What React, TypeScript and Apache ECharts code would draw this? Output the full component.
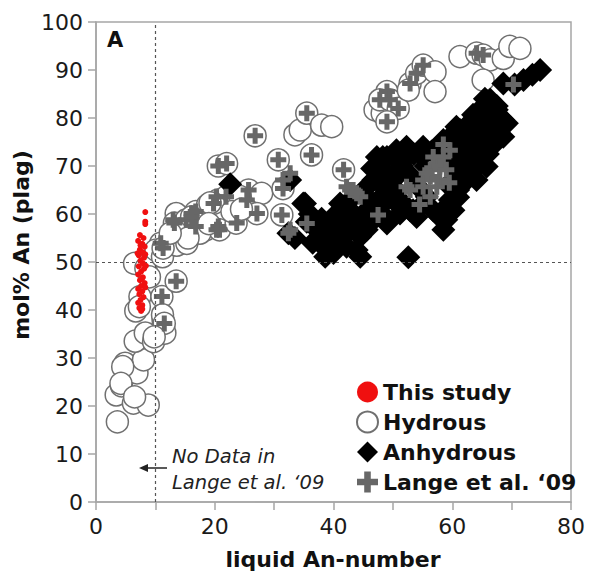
import React, { useEffect, useRef } from "react";
import * as echarts from "echarts";

const xTickLabels = [0, 20, 40, 60, 80];
const yTickLabels = [0, 10, 20, 30, 40, 50, 60, 70, 80, 90, 100];
const legendNames = ["This study", "Hydrous", "Anhydrous", "Lange et al. \u201809"];

const thisStudy: number[][] = [
  [8.3, 60.4], [8.3, 58.4], [8.3, 57.9], [7.4, 55.6], [8.0, 55.0], [7.1, 54.4], [7.8, 53.8],
  [8.2, 53.2], [7.4, 52.6], [7.9, 52.0], [7.2, 51.4], [8.1, 50.9], [7.5, 50.3], [7.9, 49.7],
  [7.2, 49.1], [8.1, 48.6], [7.6, 48.0], [7.1, 47.4], [7.9, 46.8], [7.4, 46.2], [8.2, 45.6],
  [7.6, 45.0], [7.1, 44.4], [7.8, 43.9], [7.3, 43.3], [8.0, 42.7], [7.5, 42.1], [7.1, 41.5],
  [7.8, 41.0], [7.3, 40.4], [7.6, 39.8], [8.3, 44.7], [8.4, 49.2], [7.0, 51.8], [8.3, 51.6],
  [7.7, 46.5], [7.5, 53.5], [7.8, 40.2]
];

const hydrous: number[][] = [
  [3.6, 16.7], [3.4, 22.3], [4.3, 24.2], [6.3, 20.6], [8.8, 20.2], [4.9, 28.9], [5.4, 27.5],
  [6.9, 26.9], [8.0, 29.6], [6.6, 33.5], [8.3, 35.2], [9.7, 33.4], [11.6, 35.2], [11.3, 37.9],
  [6.7, 39.8], [7.4, 42.8], [11.1, 42.8], [13.5, 46.0], [6.5, 49.7], [8.4, 48.7], [9.0, 46.9],
  [7.3, 40.7], [11.2, 39.0], [11.5, 37.2], [9.8, 34.4], [4.5, 28.2], [4.2, 24.7], [6.5, 21.9],
  [10.9, 53.9], [10.1, 52.5], [11.2, 51.1], [13.5, 60.1], [13.2, 58.1], [15.2, 58.8],
  [14.9, 56.0], [16.8, 60.5], [16.8, 57.4], [18.5, 56.7], [18.8, 61.9], [20.5, 62.9],
  [21.9, 63.6], [20.8, 56.7], [23.6, 58.1], [13.6, 53.5], [11.3, 52.9], [17.5, 56.0],
  [19.8, 62.2], [20.6, 70.0], [22.0, 70.5], [25.7, 65.0], [27.9, 64.3], [27.1, 60.1],
  [26.8, 76.3], [30.7, 71.3], [31.5, 65.3], [31.3, 59.8], [24.3, 63.6], [19.2, 62.3],
  [16.1, 59.4], [15.3, 53.9], [33.5, 76.5], [34.4, 77.5], [35.5, 81.0], [38.0, 78.5],
  [39.7, 78.2], [36.3, 72.3], [41.7, 69.2], [47.0, 81.7], [48.2, 81.0], [49.0, 85.5],
  [47.8, 83.8], [49.5, 83.8], [50.9, 82.0], [49.0, 79.2], [52.9, 87.2], [52.6, 85.8],
  [54.0, 89.3], [55.1, 91.0], [57.1, 89.6], [57.1, 85.5], [61.3, 92.8], [64.1, 93.5],
  [65.2, 93.1], [66.4, 92.1], [68.6, 92.4], [69.7, 94.9], [71.4, 94.5], [65.2, 87.9],
  [22.9, 60.5], [15.5, 55.0], [12.5, 56.0], [19.0, 58.0], [24.5, 61.0]
];

const anhydrous: number[][] = [
  [74.8, 90.0], [73.5, 89.0], [72.0, 87.9], [70.5, 87.0], [68.6, 87.2], [67.5, 81.7],
  [66.4, 83.8], [68.6, 79.6], [69.2, 78.9], [65.2, 82.4], [68.6, 76.1], [64.1, 78.2],
  [66.4, 76.8], [62.4, 76.8], [60.7, 78.2], [66.4, 74.0], [64.1, 76.8], [61.9, 74.0],
  [58.5, 75.4], [60.7, 74.7], [55.1, 74.0], [57.5, 73.0], [59.0, 72.6], [64.7, 70.6],
  [63.5, 71.3], [65.8, 69.9], [63.0, 68.5], [61.9, 68.5], [64.1, 67.1], [59.6, 65.7],
  [59.0, 61.5], [59.6, 62.9], [57.9, 59.4], [59.0, 58.8], [60.2, 60.8], [58.5, 56.7],
  [61.0, 63.5], [62.5, 72.0], [60.0, 70.0],
  [62.0, 70.0], [63.0, 72.0], [64.0, 74.0], [65.0, 76.0], [66.0, 78.0], [67.0, 80.0],
  [64.0, 71.0], [65.0, 73.0], [66.0, 75.0], [67.0, 77.0], [62.5, 74.5], [63.5, 76.0],
  [65.0, 79.0], [66.5, 81.5], [61.0, 72.0], [60.0, 74.0], [58.0, 74.5], [56.5, 73.0],
  [55.0, 72.0], [60.0, 67.0], [61.0, 65.0], [62.0, 66.5], [63.5, 69.0], [66.0, 72.5],
  [67.0, 74.5], [68.0, 76.5], [68.5, 79.0], [67.5, 82.5], [65.5, 84.0], [64.0, 80.0],
  [62.5, 78.5], [60.0, 76.5], [63.5, 80.7], [61.3, 77.5],
  [22.6, 66.2], [32.7, 67.1], [34.9, 62.2], [35.2, 62.2], [37.7, 56.7], [38.9, 52.5],
  [40.5, 54.6], [42.8, 56.7], [43.9, 52.5], [41.1, 62.2], [45.6, 60.8], [46.7, 67.1],
  [47.3, 71.9], [49.0, 71.9], [50.6, 73.3], [52.3, 74.0], [52.3, 71.9], [48.4, 68.5],
  [50.6, 65.0], [51.2, 60.1], [53.4, 60.8], [55.7, 63.6], [52.6, 51.0], [44.5, 51.1],
  [41.1, 54.6], [45.0, 56.7], [49.2, 58.8], [40.5, 60.1], [42.8, 60.8], [40.0, 51.9],
  [38.6, 51.1], [38.9, 57.4], [41.1, 59.4], [47.8, 61.5], [51.2, 62.9], [54.0, 60.8],
  [32.4, 56.0], [35.5, 58.4], [33.5, 55.0], [36.5, 54.0], [39.5, 55.5], [46.0, 63.0],
  [48.0, 63.5], [44.0, 58.0], [54.0, 66.0], [53.0, 68.0], [55.5, 70.0], [50.0, 67.0],
  [37.2, 56.7], [40.5, 56.0], [41.7, 60.8], [42.8, 62.9], [40.5, 58.8], [44.5, 55.3],
  [42.2, 53.2], [45.6, 56.7], [49.0, 58.0], [51.2, 61.5], [50.1, 67.8], [48.3, 69.2],
  [48.3, 71.9], [50.0, 72.0], [52.9, 60.8], [54.0, 59.4], [56.8, 60.8], [39.0, 54.0],
  [43.5, 59.0], [46.5, 58.5], [47.0, 61.0], [48.5, 65.5], [49.5, 63.5], [45.5, 65.5],
  [36.0, 60.0], [38.0, 59.0], [46.5, 69.5], [51.5, 70.0], [53.5, 72.5]
];

const lange: number[][] = [
  [11.1, 42.8], [13.5, 46.0], [11.5, 37.2], [10.9, 53.9], [13.2, 58.1], [15.2, 58.8],
  [16.8, 60.5], [16.8, 57.4], [21.9, 63.6], [20.8, 56.7], [13.0, 58.8], [16.1, 60.1],
  [11.3, 52.9], [19.8, 62.2], [20.6, 57.4], [23.7, 58.1], [20.6, 70.0], [22.0, 70.5],
  [25.7, 65.0], [27.1, 60.1], [26.8, 76.3], [30.7, 71.3], [31.5, 65.3], [31.3, 59.8],
  [32.7, 56.7], [32.7, 68.5], [31.5, 67.1], [35.5, 81.0], [36.3, 72.3], [41.7, 69.2],
  [25.4, 62.9], [20.3, 63.6], [16.1, 59.4], [20.3, 56.7], [32.4, 56.0], [35.5, 58.0],
  [44.5, 63.6], [42.8, 65.0], [43.3, 65.0], [47.5, 59.8], [42.2, 65.7], [52.3, 65.7],
  [55.1, 67.1], [56.3, 69.2], [57.4, 70.5], [57.9, 67.1], [58.5, 71.9], [59.6, 73.3],
  [56.8, 71.9], [57.9, 69.9], [56.3, 67.8], [59.0, 69.2], [55.1, 65.7], [52.9, 65.0],
  [57.4, 65.7], [56.3, 63.6], [55.7, 68.5], [43.9, 64.3], [49.0, 85.5],
  [47.8, 83.8], [49.5, 83.8], [50.9, 82.0], [49.0, 79.2], [52.9, 87.2], [54.0, 89.3],
  [55.1, 91.0], [65.2, 93.1], [64.1, 93.5], [70.3, 87.0], [58.5, 74.5], [59.5, 66.5],
  [54.5, 62.0]
];

const PLUS = "path://M5.5,0H10.5V5.5H16V10.5H10.5V16H5.5V10.5H0V5.5H5.5Z";
const FONT = "DejaVu Sans";

export default function App() {
  const ref = useRef<HTMLDivElement>(null);
  useEffect(() => {
    if (!ref.current) return;
    const chart = echarts.init(ref.current, undefined, { renderer: "svg" });
    chart.setOption({
      animation: false,
      backgroundColor: "#ffffff",
      grid: {
        left: 96, top: 22, width: 475, height: 480,
        show: true, borderColor: "#a6a6a6", borderWidth: 1.5, backgroundColor: "transparent"
      },
      xAxis: {
        type: "value", min: 0, max: 80, interval: 10,
        axisLine: { show: true, lineStyle: { color: "#a6a6a6", width: 1.5 } },
        axisTick: { show: true, inside: false, length: 8, lineStyle: { color: "#a6a6a6", width: 1.5 } },
        axisLabel: {
          margin: 13, fontFamily: FONT, fontSize: 22, color: "#1a1a1a",
          formatter: (v: number) => (xTickLabels.indexOf(v) >= 0 ? String(v) : "")
        },
        splitLine: { show: false }
      },
      yAxis: {
        type: "value", min: 0, max: 100, interval: 10,
        axisLine: { show: true, lineStyle: { color: "#a6a6a6", width: 1.5 } },
        axisTick: { show: true, inside: false, length: 8, lineStyle: { color: "#a6a6a6", width: 1.5 } },
        axisLabel: {
          margin: 13, fontFamily: FONT, fontSize: 22, color: "#1a1a1a",
          formatter: (v: number) => (yTickLabels.indexOf(v) >= 0 ? String(v) : "")
        },
        splitLine: { show: false }
      },
      legend: {
        orient: "vertical", left: 351, top: 373, itemWidth: 21, itemHeight: 21, itemGap: 2,
        textStyle: { fontFamily: FONT, fontWeight: "bold", fontSize: 22, color: "#111", lineHeight: 28 },
        data: legendNames
      },
      series: [
        {
          name: legendNames[1], type: "scatter", data: hydrous, symbol: "circle", symbolSize: 22,
          itemStyle: { color: "#ffffff", borderColor: "#707070", borderWidth: 1.5, opacity: 1 },
          z: 2,
          markLine: {
            silent: true, symbol: "none", label: { show: false },
            lineStyle: { type: [3, 3], color: "#555", width: 1.2 },
            data: [{ xAxis: 10 }, { yAxis: 50 }]
          }
        },
        {
          name: legendNames[2], type: "scatter", data: anhydrous, symbol: "diamond", symbolSize: [24, 24],
          itemStyle: { color: "#000000", opacity: 1 }, z: 3
        },
        {
          name: legendNames[3], type: "scatter", data: lange, symbol: PLUS, symbolSize: 16,
          itemStyle: { color: "#676767", opacity: 1 }, z: 4
        },
        {
          name: legendNames[0], type: "scatter", data: thisStudy, symbol: "circle", symbolSize: 6,
          itemStyle: { color: "#f01010", opacity: 1 }, z: 5
        }
      ],
      graphic: [
        { type: "text", x: 107, y: 29, style: { text: "A", fontFamily: FONT, fontWeight: "bold", fontSize: 21, fill: "#111", textVerticalAlign: "top" } },
        { type: "text", x: 172, y: 456, style: { text: "No Data in", fontFamily: FONT, fontStyle: "italic", fontSize: 19.5, fill: "#222", textVerticalAlign: "middle" } },
        { type: "text", x: 172, y: 482, style: { text: "Lange et al. \u201809", fontFamily: FONT, fontStyle: "italic", fontSize: 19.5, fill: "#222", textVerticalAlign: "middle" } },
        { type: "line", shape: { x1: 167, y1: 468, x2: 145, y2: 468 }, style: { stroke: "#222", lineWidth: 1.5 } },
        { type: "polygon", shape: { points: [[139, 468], [148, 464], [148, 472]] }, style: { fill: "#222" } },
        { type: "text", x: 333, y: 559, style: { text: "liquid An-number", fontFamily: FONT, fontWeight: "bold", fontSize: 22, fill: "#111", textAlign: "center", textVerticalAlign: "middle" } },
        { type: "text", x: 21, y: 245, rotation: Math.PI / 2, style: { text: "mol% An (plag)", fontFamily: FONT, fontWeight: "bold", fontSize: 22, fill: "#111", textAlign: "center", textVerticalAlign: "middle" } }
      ]
    });
    return () => chart.dispose();
  }, []);
  return <div ref={ref} style={{ position: "absolute", left: 0, top: 0, width: 590, height: 573 }} />;
}
